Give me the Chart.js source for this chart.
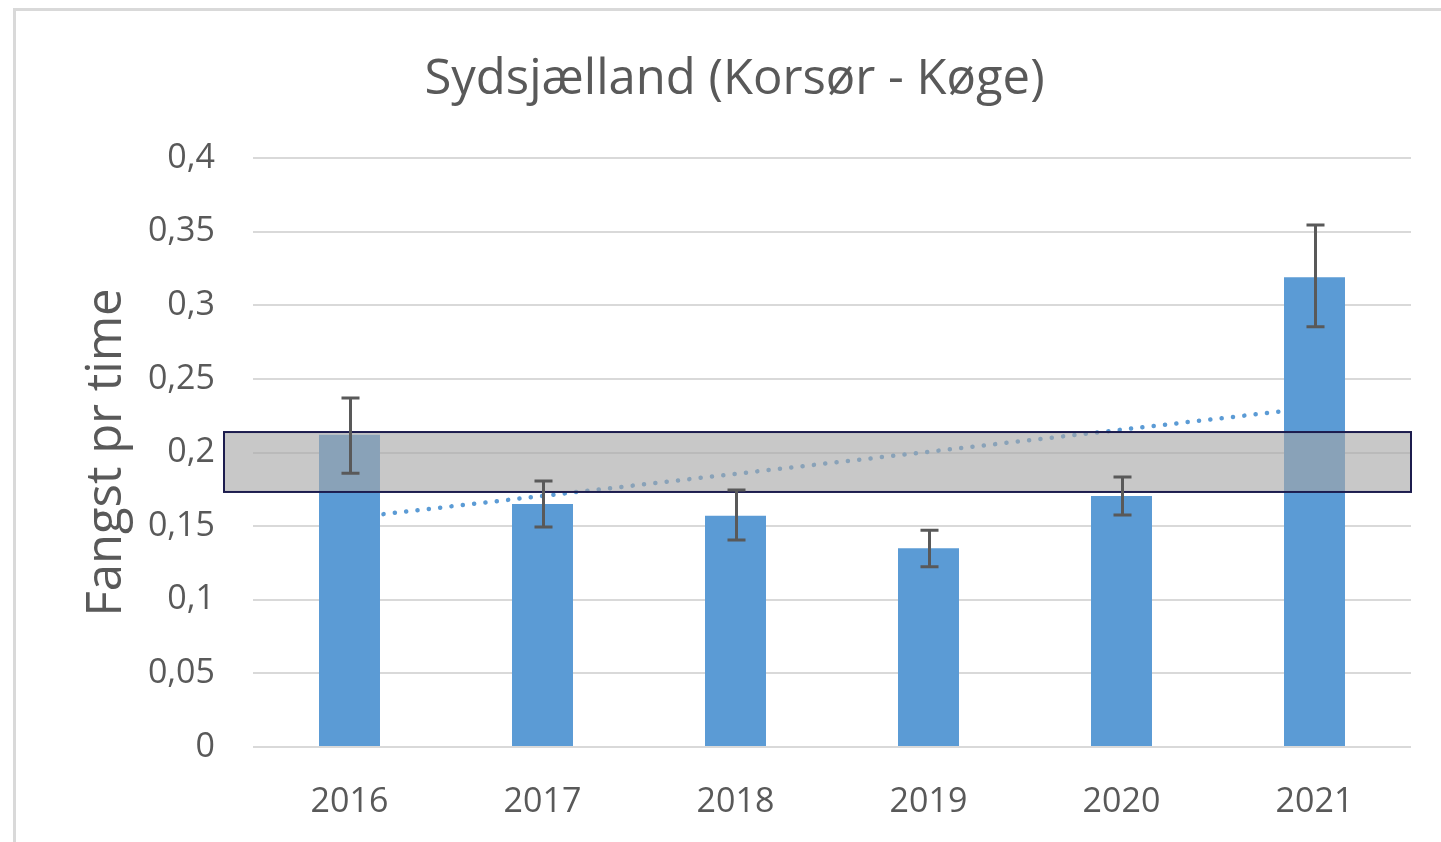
<!DOCTYPE html>
<html>
<head>
<meta charset="utf-8">
<title>Sydsjælland (Korsør - Køge)</title>
<script src="https://cdn.jsdelivr.net/npm/chart.js@4.4.1/dist/chart.umd.min.js"></script>
<style>
  html, body { margin: 0; padding: 0; background: #fff; overflow: hidden; }
  canvas { display: block; }
</style>
</head>
<body>
<canvas id="Cnvs" width="1441" height="842"></canvas>
<script>
// data
var years = ['2016', '2017', '2018', '2019', '2020', '2021'];
var fangst = [0.212, 0.165, 0.157, 0.135, 0.1705, 0.319];
var errHigh = [0.237, 0.1806, 0.1745, 0.1472, 0.1834, 0.3545];
var errLow = [0.1859, 0.1494, 0.1406, 0.1224, 0.1576, 0.2854];
var trend = [0.1555, null, null, null, null, 0.2305];
var band = [0.1732, 0.2139];

var grey = '#595959';

// white bg + light frame round the chart
var framePlugin = {
  id: 'frame',
  beforeDraw: function(chart) {
    var ctx = chart.ctx;
    ctx.save();
    ctx.fillStyle = '#fff';
    ctx.fillRect(0, 0, chart.width, chart.height);
    ctx.strokeStyle = '#d9d9d9';
    ctx.lineWidth = 3;
    ctx.beginPath();
    ctx.moveTo(14.5, chart.height + 5);
    ctx.lineTo(14.5, 9.5);
    ctx.lineTo(chart.width + 5, 9.5);
    ctx.stroke();
    ctx.restore();
  }
};

// grey band over the bars, then the error bars on top
var bandPlugin = {
  id: 'band',
  afterDatasetsDraw: function(chart) {
    var ctx = chart.ctx;
    var y = chart.scales.y;
    var x = chart.scales.x;
    var area = chart.chartArea;
    var top = y.getPixelForValue(band[1]);
    var bottom = y.getPixelForValue(band[0]);
    ctx.save();
    ctx.fillStyle = 'rgba(166,166,166,0.62)';
    ctx.fillRect(area.left - 29, top, area.right - area.left + 29, bottom - top);
    ctx.strokeStyle = '#1c1c4e';
    ctx.lineWidth = 2;
    ctx.strokeRect(area.left - 29, top, area.right - area.left + 29, bottom - top);

    ctx.strokeStyle = grey;
    ctx.lineWidth = 3;
    for (var i = 0; i < years.length; i++) {
      var cx = Math.round(x.getPixelForValue(i)) + 0.5;
      var yh = y.getPixelForValue(errHigh[i]);
      var yl = y.getPixelForValue(errLow[i]);
      ctx.beginPath();
      ctx.moveTo(cx, yh);
      ctx.lineTo(cx, yl);
      ctx.moveTo(cx - 9, yh);
      ctx.lineTo(cx + 9, yh);
      ctx.moveTo(cx - 9, yl);
      ctx.lineTo(cx + 9, yl);
      ctx.stroke();
    }
    ctx.restore();
  }
};

var Cnvs = document.getElementById('Cnvs').getContext('2d');
var barChart = new Chart(Cnvs, {
  type: 'bar',
  data: {
    labels: years,
    datasets: [
      {
        type: 'bar',
        data: fangst,
        backgroundColor: '#5b9bd5',
        categoryPercentage: 1,
        barPercentage: 0.316,
        order: 1
      },
      {
        type: 'line',
        data: trend,
        spanGaps: true,
        borderColor: '#5b9bd5',
        borderWidth: 4.5,
        borderDash: [0.1, 11.3],
        borderCapStyle: 'round',
        pointRadius: 0,
        fill: false,
        order: 2
      }
    ]
  },
  options: {
    responsive: false,
    animation: false,
    devicePixelRatio: 1,
    layout: { padding: { left: 28, right: 0, top: 0, bottom: 0 } },
    plugins: {
      legend: { display: false },
      tooltip: { enabled: false },
      title: {
        display: true,
        text: 'Sydsjælland (Korsør - Køge)',
        color: grey,
        font: { family: 'Open Sans', size: 49, weight: 'normal' },
        padding: { top: 50.6, bottom: 48.6 }
      }
    },
    scales: {
      x: {
        grid: { display: false },
        border: { display: false },
        ticks: {
          color: grey,
          font: { family: 'Open Sans', size: 34 },
          padding: 26.6
        },
        afterFit: function(scale) { scale.height = 95; }
      },
      y: {
        min: 0,
        max: 0.4,
        border: { display: false },
        grid: { color: '#d9d9d9', lineWidth: 2, drawTicks: false },
        ticks: {
          stepSize: 0.05,
          color: grey,
          font: { family: 'Open Sans', size: 34 },
          padding: 38,
          callback: function(v) {
            return String(Math.round(v * 100) / 100).replace('.', ',');
          }
        },
        title: {
          display: true,
          text: 'Fangst pr time',
          color: grey,
          font: { family: 'Open Sans', size: 49, weight: 'normal' },
          padding: { top: 50, bottom: 0 }
        },
        afterFit: function(scale) { scale.width = 225; }
      },
      // empty right axis, only keeps the space right of the plot
      yRight: {
        position: 'right',
        display: true,
        grid: { display: false },
        border: { display: false },
        ticks: { display: false },
        afterFit: function(scale) { scale.width = 30; }
      }
    }
  },
  plugins: [framePlugin, bandPlugin]
});
</script>
</body>
</html>
